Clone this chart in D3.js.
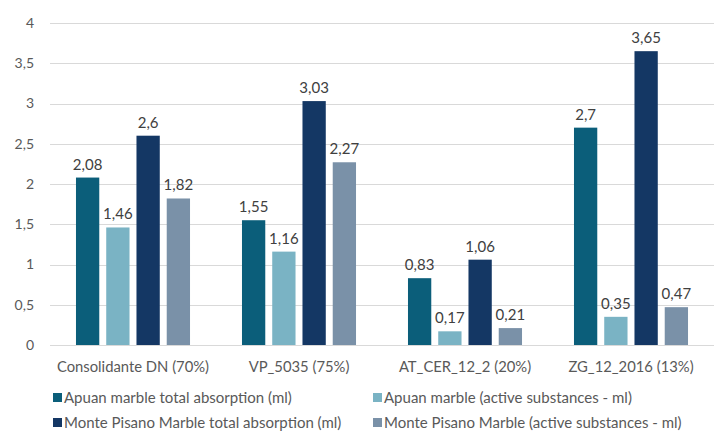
<!DOCTYPE html>
<html>
<head>
<meta charset="utf-8">
<script src="https://cdn.jsdelivr.net/npm/d3@7/dist/d3.min.js"></script>
<style>
  html, body { margin: 0; padding: 0; background: #ffffff; }
  svg { display: block; font-family: Lato, "Open Sans", sans-serif; }
</style>
</head>
<body>
<svg id="chart" width="718" height="432"></svg>
<script>
// Consolidant products tested
const categories = ["Consolidante DN (70%)", "VP_5035 (75%)", "AT_CER_12_2 (20%)", "ZG_12_2016 (13%)"];

// Absorbed volumes (ml) per product
const apuanTotal = [2.08, 1.55, 0.83, 2.7];
const apuanActive = [1.46, 1.16, 0.17, 0.35];
const pisanoTotal = [2.6, 3.03, 1.06, 3.65];
const pisanoActive = [1.82, 2.27, 0.21, 0.47];

const seriesNames = [
  "Apuan marble total absorption (ml)",
  "Apuan marble (active substances - ml)",
  "Monte Pisano Marble total absorption (ml)",
  "Monte Pisano Marble (active substances - ml)"
];
const seriesValues = [apuanTotal, apuanActive, pisanoTotal, pisanoActive];
const seriesColors = ["#0b5e7a", "#7ab3c4", "#143764", "#7a91a8"];

const yTicks = [0, 0.5, 1, 1.5, 2, 2.5, 3, 3.5, 4];

const svg = d3.select("#chart");
const fmt = v => String(v).replace(".", ",");

const x0 = d3.scaleBand()
  .domain(categories)
  .range([50, 714])
  .paddingInner(0.313)
  .paddingOuter(0.1565);

const x1 = d3.scaleBand()
  .domain(d3.range(seriesNames.length))
  .range([0, x0.bandwidth()])
  .paddingInner(0.23);

const y = d3.scaleLinear().domain([0, 4]).range([345, 23]);

// Horizontal gridlines
svg.append("g")
  .selectAll("line")
  .data(yTicks)
  .join("line")
  .attr("x1", 50)
  .attr("x2", 714)
  .attr("y1", d => Math.round(y(d)) + 0.5)
  .attr("y2", d => Math.round(y(d)) + 0.5)
  .attr("stroke", "#d9d9d9")
  .attr("stroke-width", 1);

// Y axis tick labels
const yAxis = svg.append("g")
  .attr("transform", "translate(34,0)")
  .call(d3.axisLeft(y).tickValues(yTicks).tickFormat(fmt).tickSize(0).tickPadding(0));
yAxis.select(".domain").remove();
yAxis.selectAll("text")
  .attr("fill", "#595959")
  .attr("font-size", 14)
  .attr("font-family", "Lato, sans-serif");

// Category labels
const xAxis = svg.append("g")
  .attr("transform", "translate(0,345)")
  .call(d3.axisBottom(x0).tickSize(0).tickPadding(16));
xAxis.select(".domain").remove();
xAxis.selectAll("text")
  .attr("fill", "#595959")
  .attr("font-size", 14.8)
  .attr("font-family", "Lato, sans-serif");

// Bars and value labels
const groups = svg.append("g")
  .selectAll("g")
  .data(categories)
  .join("g")
  .attr("transform", d => `translate(${x0(d)},0)`);

groups.selectAll("rect")
  .data((c, ci) => seriesValues.map((vals, si) => ({ si, v: vals[ci] })))
  .join("rect")
  .attr("x", d => x1(d.si))
  .attr("width", x1.bandwidth())
  .attr("y", d => y(d.v))
  .attr("height", d => y(0) - y(d.v))
  .attr("fill", d => seriesColors[d.si]);

groups.selectAll("text.val")
  .data((c, ci) => seriesValues.map((vals, si) => ({ si, v: vals[ci] })))
  .join("text")
  .attr("class", "val")
  .attr("x", d => x1(d.si) + x1.bandwidth() / 2)
  .attr("y", d => y(d.v) - 8)
  .attr("text-anchor", "middle")
  .attr("fill", "#404040")
  .attr("font-size", 15)
  .text(d => fmt(d.v));

// Legend, two columns
const legendPos = [
  { x: 53, y: 398 },
  { x: 373, y: 398 },
  { x: 53, y: 423 },
  { x: 373, y: 423 }
];
const legend = svg.append("g")
  .selectAll("g")
  .data(seriesNames)
  .join("g")
  .attr("transform", (d, i) => `translate(${legendPos[i].x},${legendPos[i].y})`);

legend.append("rect")
  .attr("x", 0)
  .attr("y", -5)
  .attr("width", 9)
  .attr("height", 9)
  .attr("fill", (d, i) => seriesColors[i]);

legend.append("text")
  .attr("x", 11)
  .attr("y", 0)
  .attr("dy", "0.35em")
  .attr("fill", "#595959")
  .attr("font-size", 15)
  .text(d => d);
</script>
</body>
</html>
